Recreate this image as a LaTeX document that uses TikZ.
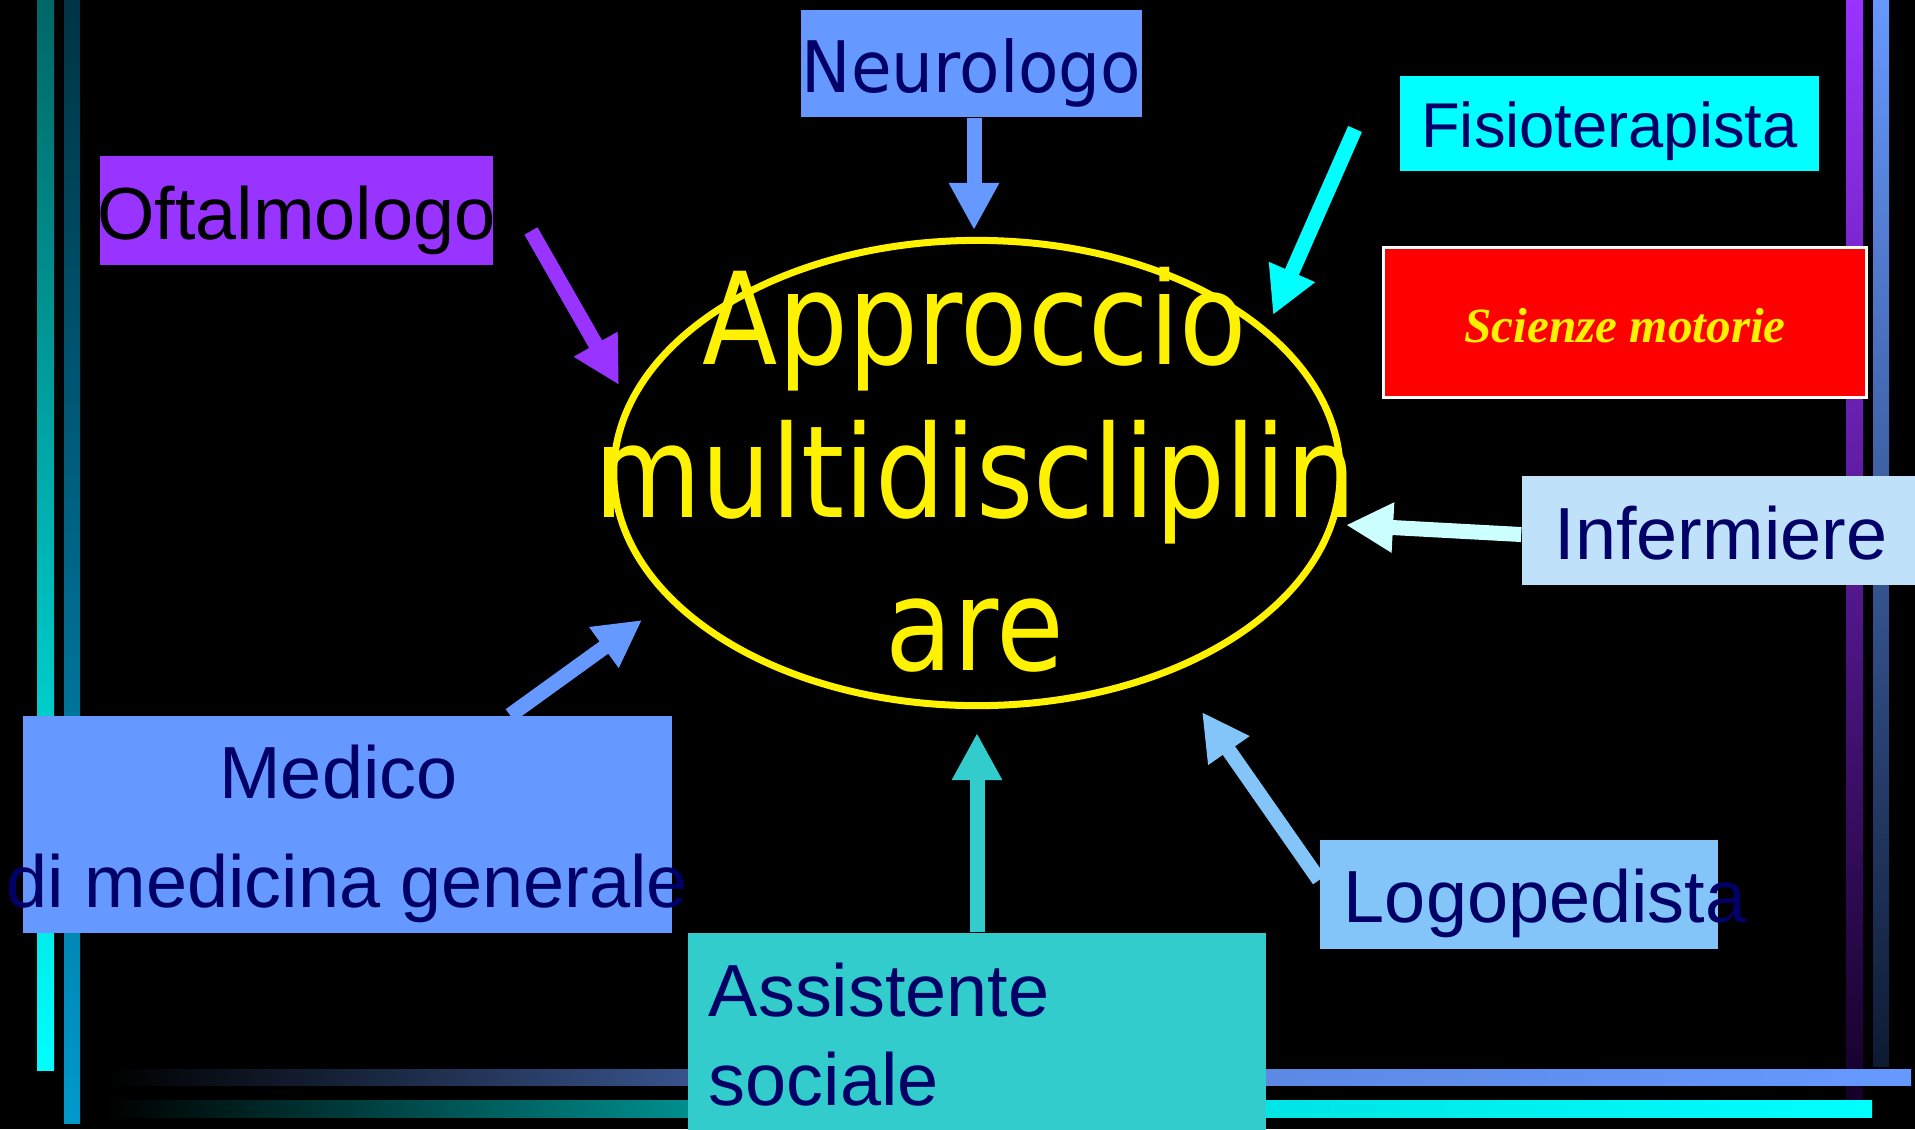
\documentclass[tikz,border=0pt]{standalone}
\usepackage{fontspec}
\usepackage{tikz}
\usetikzlibrary{arrows.meta, shapes.geometric}
\setmainfont{Liberation Sans}
\newfontfamily\corefont[FakeStretch=0.86]{DejaVu Sans}
\newfontfamily\neurofont[FakeStretch=0.93]{DejaVu Sans}
\newfontfamily\motofont{Liberation Serif}
\definecolor{navy}{HTML}{000066}
\definecolor{cornblue}{HTML}{6699FF}
\definecolor{aqua}{HTML}{00FFFF}
\definecolor{oftviolet}{HTML}{9933FF}
\definecolor{skyblue}{HTML}{C0E1FA}
\definecolor{paleaqua}{HTML}{CCFFFF}
\definecolor{logoblue}{HTML}{83C5F9}
\definecolor{seateal}{HTML}{33CCCC}
\definecolor{barteal}{HTML}{006666}
\definecolor{bardeep}{HTML}{003344}
\definecolor{barblue}{HTML}{0099CC}
\definecolor{barplum}{HTML}{140028}
\definecolor{barnight}{HTML}{0D1A33}

\begin{document}
\begin{tikzpicture}[
    x=0.01cm, y=-0.01cm,
    box/.style={inner sep=0pt, text=navy, font=\fontsize{21}{25}\selectfont, text depth=0pt},
    link/.style={->, line width=0.15cm},
    >={Triangle[length=0.47cm, width=0.47cm]}
]
\useasboundingbox (0,0) rectangle (1915,1129);
\clip (0,0) rectangle (1915,1129);
\fill[black] (0,0) rectangle (1915,1129);
% frame bars
\shade[top color=barteal, bottom color=aqua] (37,0) rectangle (54,1070);
\shade[top color=bardeep, bottom color=barblue] (64,0) rectangle (80,1123);
\shade[top color=oftviolet, bottom color=barplum] (1846,0) rectangle (1863,1101);
\shade[top color=cornblue, bottom color=barnight] (1873,0) rectangle (1889,1066);
\shade[left color=black, right color=cornblue, middle color=cornblue!85!black] (107,1069) rectangle (1911,1085);
\shade[left color=black, right color=aqua, middle color=aqua!85!black] (107,1100) rectangle (1872,1117);

% centre
\node[ellipse, draw=yellow, line width=0.07cm, minimum width=7.26cm, minimum height=4.65cm, inner sep=0pt] (core) at (977,473) {};
\node[anchor=base, align=center, inner sep=0pt, text=yellow, font=\corefont\fontsize{36.4}{43.5}\selectfont] (coreText) at (975,670) {Approccio\\multidiscliplin\\are};

% figures
\node[box, fill=cornblue, minimum width=3.41cm, minimum height=1.07cm, text height=0.57cm, font=\neurofont\fontsize{20.2}{24}\selectfont] (neuro) at (971.5,63.5) {\makebox[3.41cm]{Neurologo}};
\node[box, fill=aqua, minimum width=4.19cm, minimum height=0.95cm, text height=0.47cm, font=\fontsize{18}{21}\selectfont] (fisio) at (1609.5,123.5) {Fisioterapista};
\node[box, fill=oftviolet, text=black, minimum width=3.93cm, minimum height=1.09cm, text height=0.57cm] (oft) at (296.5,210.5) {\makebox[3.93cm]{Oftalmologo}};
\node[box, fill=red, draw=white, line width=0.03cm, text=yellow, minimum width=4.83cm, minimum height=1.50cm, text height=0.39cm, font=\motofont\bfseries\itshape\fontsize{14}{17}\selectfont] (moto) at (1625,322.5) {Scienze motorie};
\node[box, fill=skyblue, minimum width=3.98cm, minimum height=1.09cm, text height=0.57cm] (inf) at (1721,530.5) {Infermiere};
\node[box, fill=logoblue, minimum width=3.98cm, minimum height=1.09cm, text height=0.55cm] (logo) at (1519,894.5) {\makebox[3.98cm][l]{\hspace{0.24cm}Logopedista}};
\node[box, fill=cornblue, align=center, minimum width=6.49cm, minimum height=2.17cm, text height=1.70cm, text depth=0.05cm, font=\fontsize{21}{31}\selectfont] (med) at (347.5,824.5) {\makebox[6.49cm]{Medico\hspace{0.18cm}}\\\makebox[6.49cm]{di medicina generale}};
\node[box, fill=seateal, align=left, minimum width=5.78cm, minimum height=2.07cm, text height=1.47cm, text depth=0.10cm, font=\fontsize{21}{25.3}\selectfont] (ass) at (977,1036.5) {\makebox[5.78cm][l]{\hspace{0.21cm}Assistente}\\\makebox[5.78cm][l]{\hspace{0.21cm}sociale}};

% arrows
\coordinate (neuroTip) at (974,230);
\coordinate (fisioTail) at (1355,129);
\coordinate (fisioTip) at (1273,315);
\coordinate (oftTail) at (531,231);
\coordinate (oftTip) at (619,385);
\coordinate (infTip) at (1346,525);
\coordinate (medTip) at (642,620);
\coordinate (assTip) at (977,733);
\coordinate (logoTip) at (1202,712);
\draw[link, cornblue] (neuroTip |- neuro.south) -- (neuroTip);
\draw[link, aqua] (fisioTail) -- (fisioTip);
\draw[link, oftviolet] (oftTail) -- (oftTip);
\draw[link, paleaqua] ([yshift=-0.04cm]inf.west) -- (infTip);
\draw[link, cornblue] ([xshift=1.625cm]med.north) -- (medTip);
\draw[link, seateal] (ass.north) -- (assTip);
\draw[link, logoblue] ([yshift=0.145cm]logo.west) -- (logoTip);
\end{tikzpicture}
\end{document}
